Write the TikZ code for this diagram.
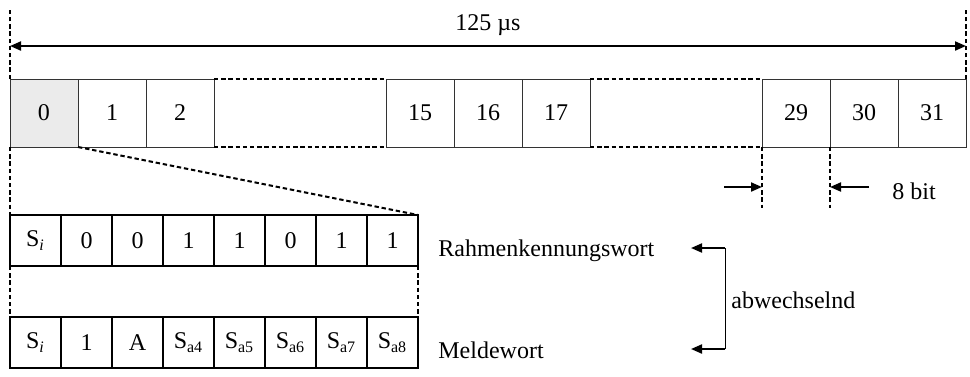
\documentclass[tikz,border=0pt]{standalone}
\usepackage{fontspec}
\setmainfont{Liberation Serif}
\usetikzlibrary{positioning, arrows.meta}

\begin{document}
\begin{tikzpicture}[
    x=0.5pt, y=-0.5pt,
    font=\fontsize{12}{14}\selectfont,
    >={Triangle[length=5.5pt,width=4.5pt]},
    slot/.style={
        rectangle,
        draw=black!80,
        line width=0.5pt,
        inner sep=0pt,
        outer sep=0pt,
        minimum width=34pt,
        minimum height=34pt
    },
    gap/.style={slot, draw=none, minimum width=86pt},
    bitbox/.style={slot, draw=black, line width=0.75pt, minimum width=25.5pt, minimum height=25.5pt},
    dashline/.style={dash pattern=on 2.2pt off 1.4pt, line width=1pt},
    arrow/.style={->, line width=1pt},
    txt/.style={inner sep=0pt, anchor=base west}
]
\useasboundingbox (0,0) rectangle (970,376);

\node[slot, fill=black!8] (c0) at (44,113) {0};
\node[slot, right=0pt of c0] (c1) {1};
\node[slot, right=0pt of c1] (c2) {2};
\node[gap, right=0pt of c2] (gapa) {};
\node[slot, right=0pt of gapa] (c15) {15};
\node[slot, right=0pt of c15] (c16) {16};
\node[slot, right=0pt of c16] (c17) {17};
\node[gap, right=0pt of c17] (gapb) {};
\node[slot, right=0pt of gapb] (c29) {29};
\node[slot, right=0pt of c29] (c30) {30};
\node[slot, right=0pt of c30] (c31) {31};

\draw[dashline] (gapa.north west) -- (gapa.north east);
\draw[dashline] (gapa.south west) -- (gapa.south east);
\draw[dashline] (gapb.north west) -- (gapb.north east);
\draw[dashline] (gapb.south west) -- (gapb.south east);

\coordinate (tl) at (10,10);
\coordinate (tr) at (966,10);
\coordinate (spanl) at (10,46);
\coordinate (spanr) at (966,46);
\draw[dashline] (c0.north west) -- (tl);
\draw[dashline] (c31.north east) -- (tr);
\draw[arrow, <->] (spanl) -- (spanr);
\node[anchor=base, inner sep=0pt] (span) at (488,30) {125 µs};

\node[bitbox] (ra1) at (35.5,240.5) {S\textsubscript{\textit{i}}};
\node[bitbox, right=0pt of ra1] (ra2) {0};
\node[bitbox, right=0pt of ra2] (ra3) {0};
\node[bitbox, right=0pt of ra3] (ra4) {1};
\node[bitbox, right=0pt of ra4] (ra5) {1};
\node[bitbox, right=0pt of ra5] (ra6) {0};
\node[bitbox, right=0pt of ra6] (ra7) {1};
\node[bitbox, right=0pt of ra7] (ra8) {1};

\node[bitbox] (rb1) at (35.5,342.5) {S\textsubscript{\textit{i}}};
\node[bitbox, right=0pt of rb1] (rb2) {1};
\node[bitbox, right=0pt of rb2] (rb3) {A};
\node[bitbox, right=0pt of rb3] (rb4) {S\textsubscript{a4}};
\node[bitbox, right=0pt of rb4] (rb5) {S\textsubscript{a5}};
\node[bitbox, right=0pt of rb5] (rb6) {S\textsubscript{a6}};
\node[bitbox, right=0pt of rb6] (rb7) {S\textsubscript{a7}};
\node[bitbox, right=0pt of rb7] (rb8) {S\textsubscript{a8}};

\draw[dashline] (c0.south west) -- (ra1.north west);
\draw[dashline] (c0.south east) -- (ra8.north east);
\draw[dashline] (ra1.south west) -- (rb1.north west);
\draw[dashline] (ra8.south east) -- (rb8.north east);

\coordinate (bitl) at ([yshift=-30.5pt]c29.south west);
\coordinate (bitr) at ([yshift=-30.5pt]c30.south west);
\coordinate (bitla) at (724,187);
\coordinate (bitra) at (869,187);
\draw[dashline] (c29.south west) -- (bitl);
\draw[dashline] (c30.south west) -- (bitr);
\draw[arrow] (bitla) -- (bitla -| c29.west);
\draw[arrow] (bitra) -- (bitra -| c30.west);
\node[txt] (bits) at (892,199) {8 bit};

\node[txt] (rkw) at (438,256) {Rahmenkennungswort};
\node[txt] (mw) at (438,358) {Meldewort};
\node[txt] (alt) at (731,308) {abwechselnd};

\coordinate (brtop) at (725,248);
\coordinate (brbot) at (725,349);
\coordinate (rkwtip) at (691,248);
\coordinate (mwtip) at (691,349);
\draw[line width=0.5pt] (brtop) -- (brbot);
\draw[arrow] (brtop) -- (rkwtip);
\draw[arrow] (brbot) -- (mwtip);

\end{tikzpicture}
\end{document}
